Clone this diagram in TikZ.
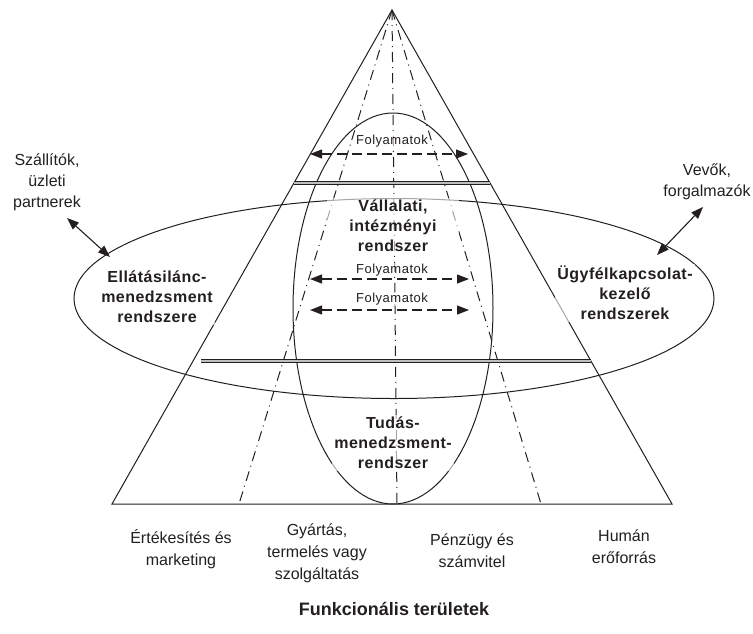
\documentclass[tikz,border=0pt]{standalone}
\usepackage{fontspec}
\setmainfont{Liberation Sans}
\usetikzlibrary{arrows.meta}
\definecolor{ink}{HTML}{231F20}
\begin{document}
\begin{tikzpicture}[x=1pt,y=-1pt,
  outline/.style={line width=1pt, ink},
  axisline/.style={line width=1pt, ink, dash pattern=on 10pt off 5pt on 1pt off 5pt},
  tip/.tip={Triangle[length=12pt,width=9pt]},
  flow/.style={line width=1.2pt, ink, dash pattern=on 10pt off 5pt, tip-tip},
  link/.style={line width=1.1pt, ink, tip-tip},
  layer/.style={line width=0.8pt, ink, double=gray!50, double distance=1.6pt},
  veil/.style={fill=white, fill opacity=0.6, text opacity=1},
  syslabel/.style={veil, font=\fontsize{16}{20}\selectfont\bfseries\addfontfeature{LetterSpace=3}, text=ink, align=center, inner sep=2pt},
  flowlabel/.style={veil, font=\fontsize{13}{15}\selectfont\addfontfeature{LetterSpace=4}, text=ink, inner sep=1pt},
  plainlabel/.style={font=\fontsize{16}{22}\selectfont, text=ink, align=center, inner sep=0pt},
  titlelabel/.style={font=\fontsize{18}{22}\selectfont\bfseries, text=ink, inner sep=0pt}
]
\useasboundingbox (0,0) rectangle (753,633);

% pyramid
\coordinate (apex) at (392,10);
\coordinate (bl) at (112,504);
\coordinate (br) at (672,504);
\draw[outline] (apex) -- (bl) -- (br) -- cycle;

% dividers between the functional areas
\coordinate (fl) at (239,504);
\coordinate (fc) at (397,504);
\coordinate (fr) at (541,504);
\draw[axisline] (apex) -- (fl);
\draw[axisline] (apex) -- (fc);
\draw[axisline] (apex) -- (fr);

% knowledge management (vertical) and enterprise systems (horizontal)
\draw[outline] (393,308.5) ellipse [x radius=100pt, y radius=195.5pt];
\draw[outline] (394,298.5) ellipse [x radius=320pt, y radius=100pt];

% management level boundaries
\coordinate (u1) at (294,183);
\coordinate (u2) at (490,183);
\coordinate (d1) at (201,361);
\coordinate (d2) at (591,361);
\draw[layer] (u1) -- (u2);
\draw[layer] (d1) -- (d2);

% processes
\coordinate (p1l) at (310,154);
\coordinate (p1r) at (468,154);
\coordinate (p2l) at (310,279);
\coordinate (p2r) at (469,279);
\coordinate (p3l) at (310,310);
\coordinate (p3r) at (469,310);
\draw[flow] (p1l) -- (p1r);
\draw[flow] (p2l) -- (p2r);
\draw[flow] (p3l) -- (p3r);
\node[flowlabel] (fol1) at (392,141) {Folyamatok};
\node[flowlabel] (fol2) at (392,270) {Folyamatok};
\node[flowlabel] (fol3) at (392,299) {Folyamatok};

% system names
\node[syslabel, inner xsep=22pt] (ent) at (393,226) {Vállalati,\\intézményi\\rendszer};
\node[syslabel] (kms) at (393,443) {Tudás-\\menedzsment-\\rendszer};
\node[syslabel] (scm) at (157,297) {Ellátásilánc-\\menedzsment\\rendszere};
\node[syslabel] (crm) at (625,293) {Ügyfélkapcsolat-\\kezelő\\rendszerek};

% external partners
\node[plainlabel, font=\fontsize{16}{21}\selectfont] (sup) at (47,182) {Szállítók,\\üzleti\\partnerek};
\node[plainlabel, font=\fontsize{16}{21}\selectfont] (cus) at (707,182) {Vevők,\\forgalmazók};
\coordinate (scmedge) at (110,257);
\coordinate (supend) at (67,218);
\coordinate (crmedge) at (657,255);
\coordinate (cusend) at (703,207);
\draw[link] (supend) -- (scmedge);
\draw[link] (cusend) -- (crmedge);

% functional areas
\node[plainlabel] (sales) at (181,549) {Értékesítés és\\marketing};
\node[plainlabel] (prod) at (317,553) {Gyártás,\\termelés vagy\\szolgáltatás};
\node[plainlabel] (fin) at (472,551) {Pénzügy és\\számvitel};
\node[plainlabel] (hr) at (624,547) {Humán\\erőforrás};
\node[titlelabel] (func) at (394,609) {Funkcionális területek};
\end{tikzpicture}
\end{document}
